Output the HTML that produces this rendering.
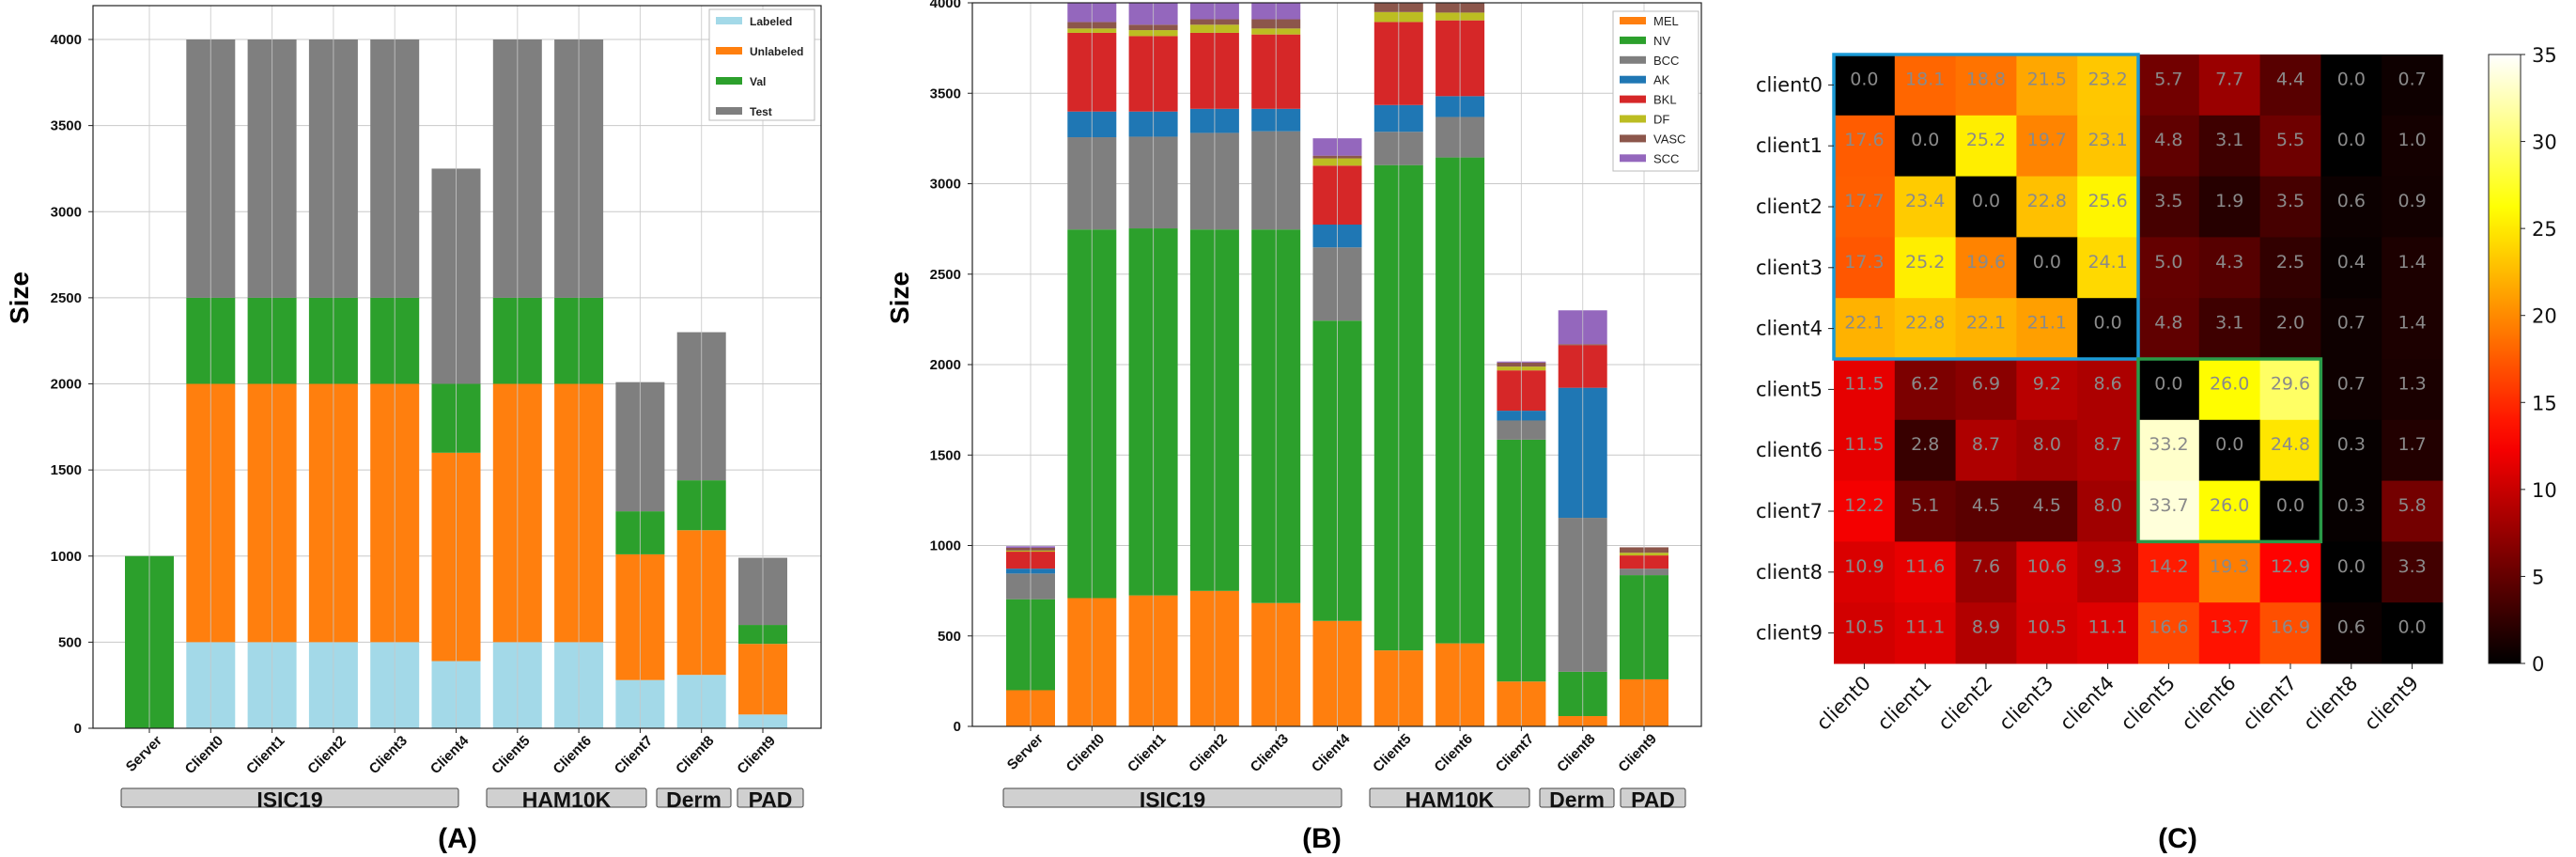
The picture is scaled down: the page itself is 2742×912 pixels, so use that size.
<!DOCTYPE html>
<html><head><meta charset="utf-8"><style>
html,body{margin:0;padding:0;background:#fff;}
svg{display:block;font-family:"Liberation Sans","DejaVu Sans",sans-serif;}
</style></head><body>
<svg id="fig" width="2742" height="912" viewBox="0 0 2742 912" xmlns="http://www.w3.org/2000/svg"></svg>
<script>
const categories=["Server","Client0","Client1","Client2","Client3","Client4","Client5","Client6","Client7","Client8","Client9"];
// Panel A series
const aSeriesNames=["Labeled","Unlabeled","Val","Test"];
const aLabeled=[0,500,500,500,500,390,500,500,280,310,80];
const aUnlabeled=[0,1500,1500,1500,1500,1210,1500,1500,730,840,410];
const aVal=[1000,500,500,500,500,400,500,500,250,290,110];
const aTest=[0,1500,1500,1500,1500,1250,1500,1500,750,860,390];
// Panel B series
const bSeriesNames=["MEL","NV","BCC","AK","BKL","DF","VASC","SCC"];
const bMEL=[200,709,724,749,682,583,420,459,248,57,260];
const bNV=[503,2038,2029,1998,2065,1660,2683,2686,1337,245,576];
const bBCC=[142,510,507,534,543,405,184,224,106,851,36];
const bAK=[27,142,139,133,124,126,148,115,54,719,0];
const bBKL=[94,435,417,420,411,326,459,419,223,235,73];
const bDF=[6,24,33,45,33,40,55,43,21,0,15];
const bVASC=[15,36,30,30,51,15,51,54,22,6,30];
const bSCC=[9,106,121,91,91,96,0,0,6,187,0];
const yTicks=[0,500,1000,1500,2000,2500,3000,3500,4000];
// Panel C
const hmLabels=["client0","client1","client2","client3","client4","client5","client6","client7","client8","client9"];
const hmValues=[
[0.0,18.1,18.8,21.5,23.2,5.7,7.7,4.4,0.0,0.7],
[17.6,0.0,25.2,19.7,23.1,4.8,3.1,5.5,0.0,1.0],
[17.7,23.4,0.0,22.8,25.6,3.5,1.9,3.5,0.6,0.9],
[17.3,25.2,19.6,0.0,24.1,5.0,4.3,2.5,0.4,1.4],
[22.1,22.8,22.1,21.1,0.0,4.8,3.1,2.0,0.7,1.4],
[11.5,6.2,6.9,9.2,8.6,0.0,26.0,29.6,0.7,1.3],
[11.5,2.8,8.7,8.0,8.7,33.2,0.0,24.8,0.3,1.7],
[12.2,5.1,4.5,4.5,8.0,33.7,26.0,0.0,0.3,5.8],
[10.9,11.6,7.6,10.6,9.3,14.2,19.3,12.9,0.0,3.3],
[10.5,11.1,8.9,10.5,11.1,16.6,13.7,16.9,0.6,0.0]];
const cbTicks=[0,5,10,15,20,25,30,35];

const NS="http://www.w3.org/2000/svg";
const svg=document.getElementById('fig');
function mk(tag,attrs,parent,text){const e=document.createElementNS(NS,tag);for(const k in attrs)e.setAttribute(k,attrs[k]);if(text!==undefined)e.textContent=text;(parent||svg).appendChild(e);return e;}

function stacked(cfg){
  const g=mk('g',{});
  
  
  const {L,R,T,B,y0,y4000,x0,dx,bw}=cfg;
  const yS=v=>y0-(y0-y4000)*v/4000;
  const xS=i=>x0+dx*i;
  yTicks.forEach(t=>{const l=mk('line',{x1:L,x2:R,y1:yS(t),y2:yS(t),stroke:'#c8c8c8','stroke-width':1},g);
    });
  cfg.series.forEach((arr,si)=>{
    arr.forEach((v,i)=>{
      let base=0;for(let k=0;k<si;k++)base+=cfg.series[k][i];
      if(v<=0)return;
      const r=mk('rect',{x:xS(i)-bw/2,y:yS(base+v),width:bw,height:yS(base)-yS(base+v),fill:cfg.colors[si]},g);
      
      
    });
  });
  categories.forEach((c,i)=>{const l=mk('line',{x1:xS(i),x2:xS(i),y1:T,y2:B,stroke:'#c8c8c8','stroke-width':1,opacity:0.8},g);
    });
  const fr=mk('rect',{x:L,y:T,width:R-L,height:B-T,fill:'none',stroke:'#222','stroke-width':1.2},g);
  
  yTicks.forEach(t=>{mk('line',{x1:L-5,x2:L,y1:yS(t),y2:yS(t),stroke:'#222'},g);
    const tx=mk('text',{x:L-12,y:yS(t)+5,'text-anchor':'end','font-size':15,'font-weight':'bold',fill:'#111'},g,String(t));
    });
  categories.forEach((c,i)=>{mk('line',{x1:xS(i),x2:xS(i),y1:B,y2:B+5,stroke:'#222'},g);
    const tx=mk('text',{x:xS(i)+14,y:B+14,'text-anchor':'end','font-size':15,'font-weight':'bold',fill:'#111',transform:`rotate(-45 ${xS(i)+14} ${B+14})`},g,c);
    });
  const yl=mk('text',{x:cfg.ylx,y:317,'text-anchor':'middle','font-size':28,'font-weight':'bold',transform:`rotate(-90 ${cfg.ylx} 317)`},g,'Size');
  
  cfg.groups.forEach(gr=>{const r=mk('rect',{x:gr[1],y:839,width:gr[2]-gr[1],height:20,rx:2,fill:'#d0d0d0',stroke:'#444','stroke-width':1},g);
    
    const t=mk('text',{x:(gr[1]+gr[2])/2,y:859,'text-anchor':'middle','font-size':23,'font-weight':'bold',fill:'#111'},g,gr[0]);
    });
  const pl=mk('text',{x:cfg.plx,y:902,'text-anchor':'middle','font-size':30,'font-weight':'bold'},g,cfg.panel);
  
  const lg=mk('g',{},g);
  const Lg=cfg.legend;
  mk('rect',{x:Lg.x,y:Lg.y,width:Lg.w,height:Lg.h,fill:'#fff',stroke:'#bbb','stroke-width':1},lg);
  cfg.names.forEach((n,i)=>{const yy=Lg.y+Lg.first+Lg.step*i;
    const sw=mk('rect',{x:Lg.x+7,y:yy-4,width:Lg.sw,height:8,fill:cfg.colors[i]},lg);
    
    const t=mk('text',{x:Lg.x+Lg.sw+15,y:yy+5,'font-size':Lg.fs,'font-weight':Lg.fw,fill:'#222'},lg,n);
    });
}

stacked({name:'panel-a-chart',L:99,R:874,T:6,B:775,y0:775,y4000:42,x0:159,dx:65.3,bw:52,
  series:[aLabeled,aUnlabeled,aVal,aTest],names:aSeriesNames,
  colors:['#a3d9e8','#ff7f0e','#2ca02c','#7f7f7f'],ylx:30,plx:487,panel:'(A)',
  groups:[['ISIC19',129,488],['HAM10K',518,688],['Derm',699,778],['PAD',785,855]],
  legend:{x:755,y:10,w:112,h:118,first:12,step:32,sw:28,fs:12,fw:'bold'}});
stacked({name:'panel-b-chart',L:1035,R:1811,T:3,B:773,y0:773,y4000:3,x0:1097,dx:65.3,bw:52,
  series:[bMEL,bNV,bBCC,bAK,bBKL,bDF,bVASC,bSCC],names:bSeriesNames,
  colors:['#ff7f0e','#2ca02c','#7f7f7f','#1f77b4','#d62728','#bcbd22','#8c564b','#9467bd'],ylx:967,plx:1407,panel:'(B)',
  groups:[['ISIC19',1068,1428],['HAM10K',1458,1628],['Derm',1639,1718],['PAD',1725,1794]],
  legend:{x:1717,y:12,w:91,h:170,first:10,step:20.9,sw:28,fs:13,fw:'normal'}});

function hot(x){x=Math.max(0,Math.min(1,x));
  const r=Math.min(1,x/0.365),g=Math.max(0,Math.min(1,(x-0.365)/0.381)),b=Math.max(0,Math.min(1,(x-0.746)/0.254));
  return `rgb(${Math.round(r*255)},${Math.round(g*255)},${Math.round(b*255)})`;}
const hg=mk('g',{});
const HL=1952,HT=58,CS=64.8,VMAX=35;
hmValues.forEach((row,r)=>row.forEach((v,c)=>{
  const rc=mk('rect',{x:HL+c*CS,y:HT+r*CS,width:CS+0.5,height:CS+0.5,fill:hot(v/VMAX)},hg);
  
  const t=mk('text',{x:HL+c*CS+CS/2,y:HT+r*CS+CS/2,'text-anchor':'middle','font-size':19,fill:'#8a8a8a','font-family':'DejaVu Sans, sans-serif'},hg,v.toFixed(1));
  
}));
const bb=mk('rect',{x:HL,y:HT,width:5*CS,height:5*CS,fill:'none',stroke:'#1b9ad6','stroke-width':3.5},hg);

const gb=mk('rect',{x:HL+5*CS,y:HT+5*CS,width:3*CS,height:3*CS,fill:'none',stroke:'#2a9a48','stroke-width':3.5},hg);

hmLabels.forEach((l,i)=>{
  mk('line',{x1:HL-6,x2:HL,y1:HT+i*CS+CS/2,y2:HT+i*CS+CS/2,stroke:'#222'},hg);
  const t=mk('text',{x:HL-12,y:HT+i*CS+CS/2+7,'text-anchor':'end','font-size':21,fill:'#111','font-family':'DejaVu Sans, sans-serif'},hg,l);
  
  const cx=HL+i*CS+CS/2,cy=HT+10*CS;
  mk('line',{x1:cx,x2:cx,y1:cy,y2:cy+6,stroke:'#222'},hg);
  const t2=mk('text',{x:cx+8,y:cy+22,'text-anchor':'end','font-size':21,fill:'#111','font-family':'DejaVu Sans, sans-serif',transform:`rotate(-45 ${cx+8} ${cy+22})`},hg,l);
  
});
const defs=mk('defs',{});const lgd=mk('linearGradient',{id:'hotg',x1:0,y1:1,x2:0,y2:0},defs);
for(let k=0;k<=20;k++)mk('stop',{offset:k/20,'stop-color':hot(k/20)},lgd);
const CBX=2649,CBW=34,CBT=58,CBB=706;
const cb=mk('rect',{x:CBX,y:CBT,width:CBW,height:CBB-CBT,fill:'url(#hotg)',stroke:'#222','stroke-width':1},hg);

cbTicks.forEach(t=>{const y=CBB-(CBB-CBT)*t/VMAX;
  mk('line',{x1:CBX+CBW,x2:CBX+CBW+5,y1:y,y2:y,stroke:'#222'},hg);
  const tx=mk('text',{x:CBX+CBW+12,y:y+8,'font-size':21,fill:'#111','font-family':'DejaVu Sans, sans-serif'},hg,String(t));
  });
const pc=mk('text',{x:2318,y:902,'text-anchor':'middle','font-size':30,'font-weight':'bold'},hg,'(C)');

</script>
</body></html>
